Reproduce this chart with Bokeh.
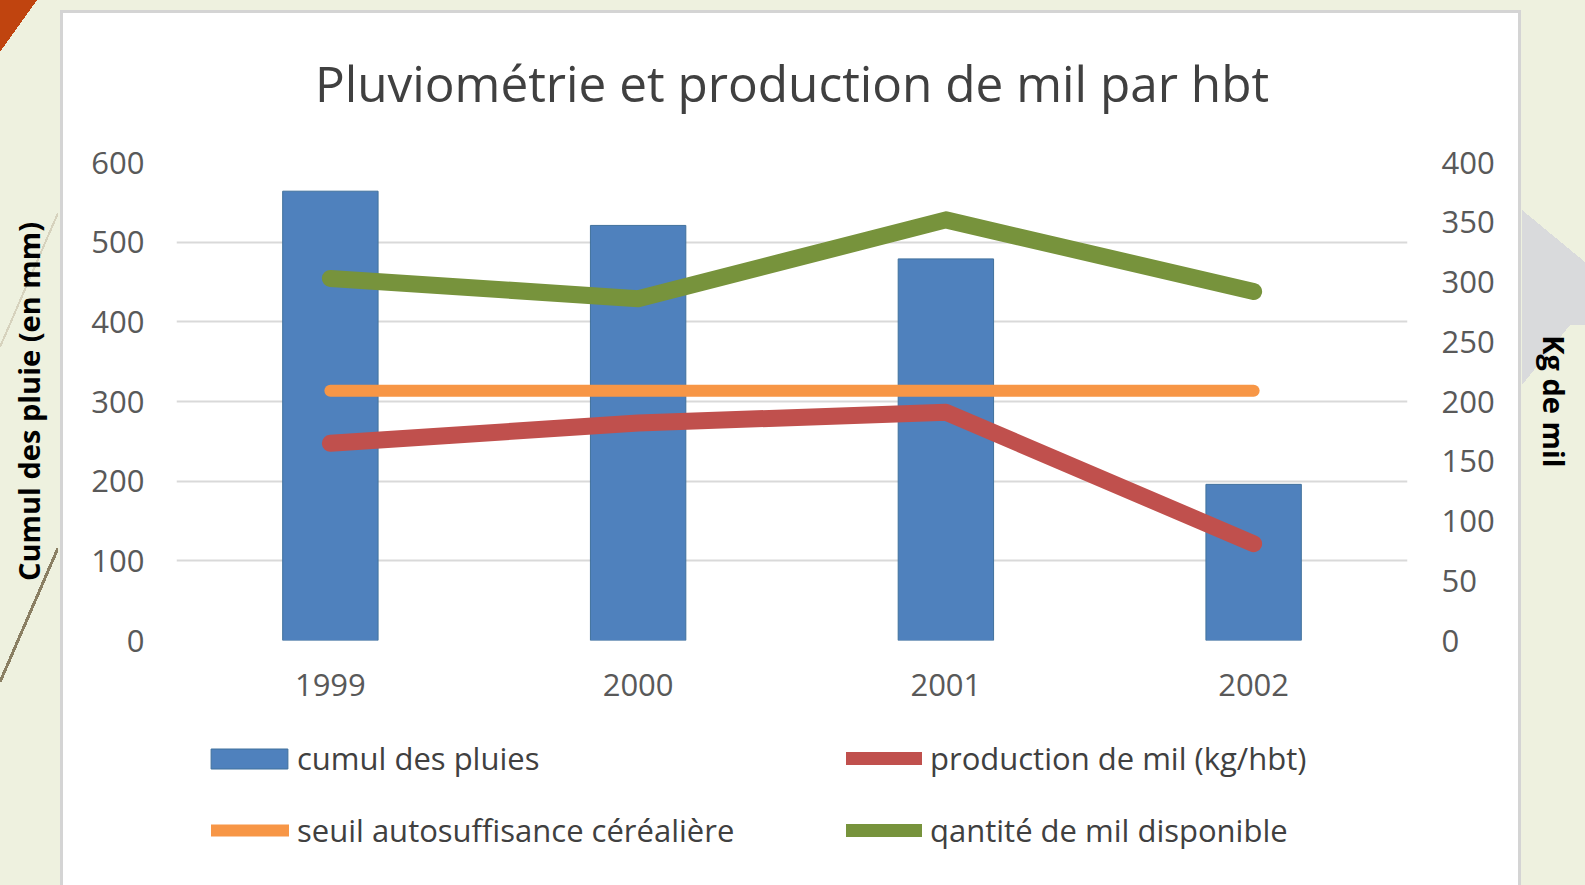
from bokeh.plotting import figure
from bokeh.layouts import column
from bokeh.models import (ColumnDataSource, Range1d, LinearAxis, Legend, LegendItem,
                          FixedTicker, FactorRange)
from bokeh.embed import file_html
from bokeh.resources import INLINE

# ---- data ----
years = ["1999", "2000", "2001", "2002"]
cumul_pluies = [564, 521, 479, 196]          # mm (left axis)
production_mil = [165, 182, 191, 81]         # kg/hbt (right axis)
seuil_autosuffisance = [209, 209, 209, 209]  # kg (right axis)
quantite_disponible = [303, 286, 352, 292]   # kg (right axis)
left_ticks = [0, 100, 200, 300, 400, 500, 600]
right_ticks = [0, 50, 100, 150, 200, 250, 300, 350, 400]

title = "Pluviométrie et production de mil par hbt"
left_label = "Cumul des pluie (en mm)"
right_label = "Kg de mil"
series_names = ["cumul des pluies", "production de mil (kg/hbt)",
                "seuil autosuffisance céréalière", "qantité de mil disponible"]

# ---- style ----
BG = "#eef1df"
FONT = "Open Sans"
TXT = "#595959"
C_BAR, C_BAR_LINE = "#4f81bd", "#41719c"
C_PROD, C_SEUIL, C_DISPO = "#c0504d", "#f79646", "#77933c"

T = "rgba(0,0,0,0)"
layers = [
    # slide decorations
    f"linear-gradient(to bottom right, #c0440f 50%, {T} 50%) 0px 0px / 37px 52px no-repeat",
    f"linear-gradient(to top right, #d9dadc 50%, {T} 50%) 1522px 210px / 63px 52px no-repeat",
    "linear-gradient(#d9dadc, #d9dadc) 1522px 262px / 63px 63px no-repeat",
    f"linear-gradient(to bottom right, #d9dadc 50%, {T} 50%) 1522px 325px / 48px 60px no-repeat",
    f"linear-gradient(to bottom right, {T} calc(50% - 1.5px), #8a7f63 calc(50% - 1.5px), #8a7f63 calc(50% + 1.5px), {T} calc(50% + 1.5px)) 0px 548px / 58px 134px no-repeat",
    f"linear-gradient(to bottom right, {T} calc(50% - 1px), #d6d2bd calc(50% - 1px), #d6d2bd calc(50% + 1px), {T} calc(50% + 1px)) 0px 213px / 58px 134px no-repeat",
    # white chart panel with grey border
    "linear-gradient(#ffffff, #ffffff) 63px 13px / 1455px 880px no-repeat",
    "linear-gradient(#d4d4d4, #d4d4d4) 60px 10px / 1461px 885px no-repeat",
]
css_bg = ", ".join(layers) + f", {BG}"

src = ColumnDataSource(dict(year=years, cumul=cumul_pluies, prod=production_mil,
                            seuil=seuil_autosuffisance, dispo=quantite_disponible))

# ---------------- main chart ----------------
p = figure(width=1585, height=725, x_range=FactorRange(*years), y_range=Range1d(0, 600),
           output_backend="svg", toolbar_location=None,
           min_border_left=176, min_border_right=178, min_border_top=161, min_border_bottom=85,
           border_fill_color=None, background_fill_color=None, outline_line_color=None)

p.title.text = title
p.title.align = "center"
p.title.text_font = FONT
p.title.text_font_size = "49.5px"
p.title.text_font_style = "normal"
p.title.text_color = "#404040"
p.title.standoff = 92

p.extra_y_ranges = {"kg": Range1d(0, 400)}

bars = p.vbar(x="year", top="cumul", width=0.31, source=src,
              fill_color=C_BAR, line_color=C_BAR_LINE, line_width=1)
r_prod = p.line(x="year", y="prod", source=src, y_range_name="kg", line_width=17,
                line_color=C_PROD, line_cap="round", line_join="round")
r_seuil = p.line(x="year", y="seuil", source=src, y_range_name="kg", line_width=12,
                 line_color=C_SEUIL, line_cap="round", line_join="round")
r_dispo = p.line(x="year", y="dispo", source=src, y_range_name="kg", line_width=17,
                 line_color=C_DISPO, line_cap="round", line_join="round")

for ax in [p.yaxis[0], p.xaxis[0]]:
    ax.axis_line_color = None
    ax.major_tick_line_color = None
    ax.minor_tick_line_color = None
    ax.major_label_text_font = FONT
    ax.major_label_text_font_size = "31px"
    ax.major_label_text_color = TXT

p.yaxis[0].ticker = FixedTicker(ticks=left_ticks)
p.yaxis[0].major_label_standoff = 26
p.yaxis[0].axis_label = left_label
p.yaxis[0].axis_label_standoff = 40
p.yaxis[0].axis_label_text_font = FONT
p.yaxis[0].axis_label_text_font_style = "bold"
p.yaxis[0].axis_label_text_font_size = "29px"
p.yaxis[0].axis_label_text_color = "black"

p.xaxis[0].major_label_standoff = 27

ry = LinearAxis(y_range_name="kg", ticker=FixedTicker(ticks=right_ticks), axis_label=right_label,
                axis_line_color=None, major_tick_line_color=None, minor_tick_line_color=None,
                major_label_text_font=FONT, major_label_text_font_size="31px",
                major_label_text_color=TXT, major_label_standoff=28,
                axis_label_standoff=37, axis_label_text_font=FONT, axis_label_text_font_style="bold",
                axis_label_text_font_size="29px", axis_label_text_color="black")
p.add_layout(ry, "right")

p.xgrid.visible = False
p.ygrid.ticker = FixedTicker(ticks=left_ticks)
p.ygrid.grid_line_color = "#d9d9d9"
p.ygrid.grid_line_width = 2

# ---------------- legend strip under the chart ----------------
# (its frame is aligned by the column layout with the chart frame above)
pl = figure(width=1585, height=160, x_range=p.x_range, y_range=Range1d(0, 600),
            output_backend="svg", toolbar_location=None,
            min_border=0, x_axis_location=None, y_axis_location=None,
            border_fill_color=None, background_fill_color=None, outline_line_color=None)
pl.grid.visible = False
# legend keys: same series, hidden in the strip, only their legend swatches are shown
k_bar = pl.vbar(x="year", top="cumul", width=0.31, source=src, visible=False,
                fill_color=C_BAR, line_color=C_BAR_LINE, line_width=1)
k_prod = pl.line(x="year", y="prod", source=src, visible=False,
                 line_width=13, line_color=C_PROD, line_cap="round")
k_seuil = pl.line(x="year", y="seuil", source=src, visible=False,
                  line_width=12, line_color=C_SEUIL, line_cap="round")
k_dispo = pl.line(x="year", y="dispo", source=src, visible=False,
                  line_width=13, line_color=C_DISPO, line_cap="round")

common = dict(orientation="vertical", padding=0, margin=0, label_height=42,
              border_line_color=None, background_fill_color=None,
              inactive_fill_alpha=0,
              label_text_font=FONT, label_text_font_size="31px", label_text_color="#404040")
legends = [
    Legend(items=[LegendItem(label=series_names[0], renderers=[k_bar])], location=(25, 106),
           glyph_width=96, glyph_height=25, label_standoff=0, **common),
    Legend(items=[LegendItem(label=series_names[1], renderers=[k_prod])], location=(670, 106),
           glyph_width=76, glyph_height=20, label_standoff=8, **common),
    Legend(items=[LegendItem(label=series_names[2], renderers=[k_seuil])], location=(35, 34),
           glyph_width=78, glyph_height=20, label_standoff=8, **common),
    Legend(items=[LegendItem(label=series_names[3], renderers=[k_dispo])], location=(670, 34),
           glyph_width=76, glyph_height=20, label_standoff=8, **common),
]
for lg in legends:
    pl.add_layout(lg)

layout = column(p, pl, spacing=0, styles={"background": css_bg})

open("out.html", "w").write(file_html(layout, INLINE))
